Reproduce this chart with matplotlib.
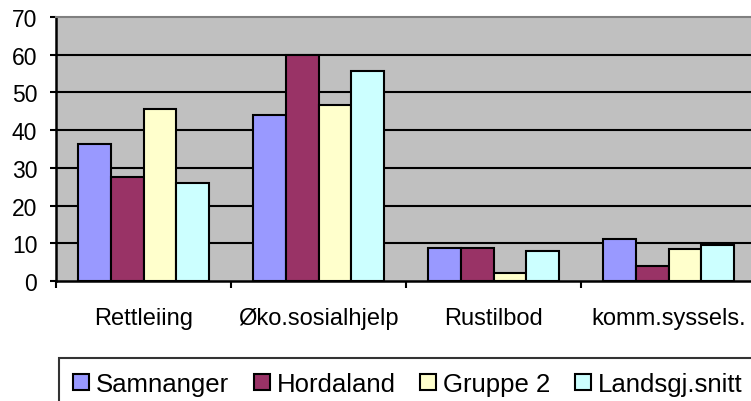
import numpy as np
import matplotlib.pyplot as plt
from matplotlib.patches import Patch

plt.rcParams['font.family'] = ['Liberation Sans', 'DejaVu Sans']

categories = ['Rettleiing', 'Øko.sosialhjelp', 'Rustilbod', 'komm.syssels.']
series = ['Samnanger', 'Hordaland', 'Gruppe 2', 'Landsgj.snitt']
samnanger = [36.2, 44.0, 8.7, 11.2]
hordaland = [27.5, 60.0, 8.7, 3.9]
gruppe2 = [45.7, 46.6, 2.1, 8.6]
landsgj = [26.1, 55.8, 8.0, 9.5]
colors = ['#9999FF', '#993366', '#FFFFCC', '#CCFFFF']

values = [samnanger, hordaland, gruppe2, landsgj]

fig = plt.figure(figsize=(7.51, 4.02), dpi=100)
ax = fig.add_axes([56/751, 1 - 282/402, 700/751, 264/402])
ax.set_facecolor('#C0C0C0')

x = np.arange(len(categories))
w = 0.1875
for k, (vals, c) in enumerate(zip(values, colors)):
    ax.bar(x + (k - 1.5) * w, vals, w, color=c, edgecolor='black',
           linewidth=1.5, label=series[k], zorder=3)

ax.set_xlim(-0.5, 3.5)
ax.set_ylim(0, 70)
ax.set_yticks(range(0, 71, 10))
ax.tick_params(axis='y', labelsize=16.5, length=4.5, width=1.5, pad=9)
for v in range(10, 70, 10):
    ax.axhline(v, color='black', lw=1.5, zorder=1)

ax.set_xticks(x)
ax.set_xticklabels(categories, fontsize=17)
ax.tick_params(axis='x', which='major', length=0, pad=19)
ax.set_xticks(np.arange(-0.5, 4, 1), minor=True)
ax.tick_params(axis='x', which='minor', length=5, width=1.5)

for s in ['left', 'bottom']:
    ax.spines[s].set_linewidth(1.8)
for s in ['top', 'right']:
    ax.spines[s].set_color('#808080')
    ax.spines[s].set_linewidth(1.5)

handles = [Patch(facecolor=c, edgecolor='black', linewidth=1.5) for c in colors]
leg = fig.legend(handles, series, loc='upper left', bbox_to_anchor=(59/751, 1 - 359/402),
                 ncol=4, fontsize=18.5, frameon=True, fancybox=False,
                 handlelength=0.62, handleheight=0.62, handletextpad=0.28,
                 columnspacing=0.95, borderpad=0.55, borderaxespad=0)
leg.get_frame().set_edgecolor('black')
leg.get_frame().set_linewidth(1.5)

fig.savefig('out.png', dpi=100)
